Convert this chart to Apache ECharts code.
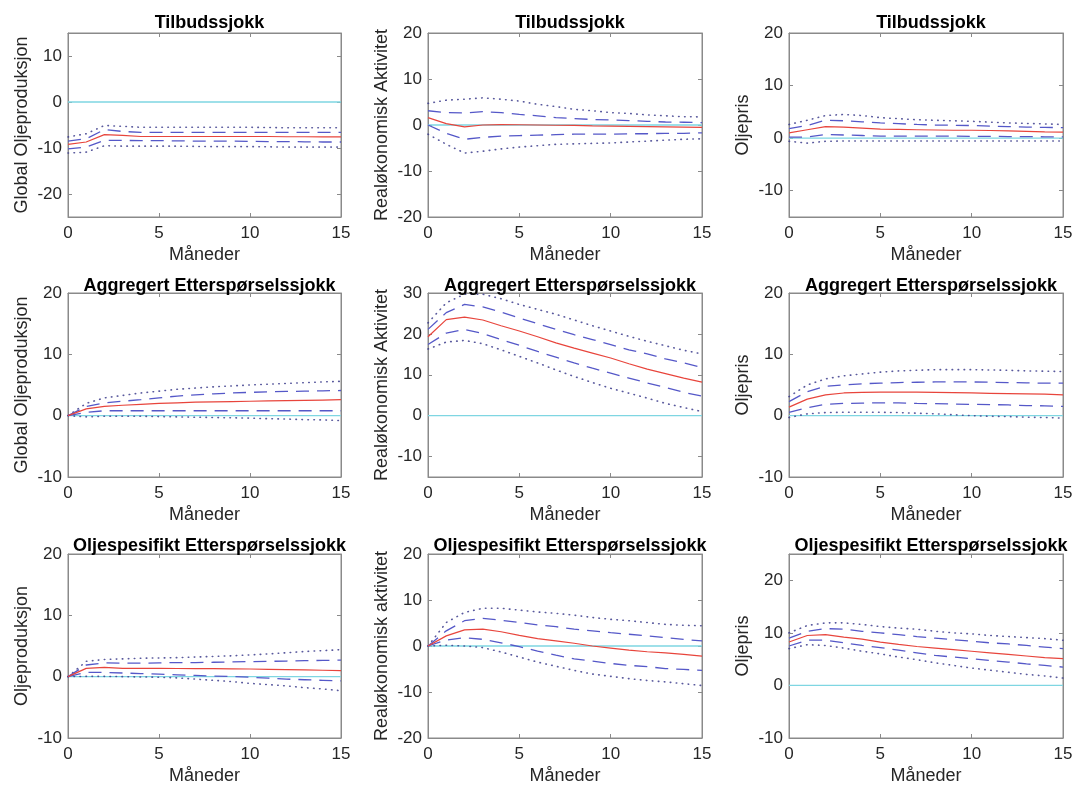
<!DOCTYPE html>
<html>
<head>
<meta charset="utf-8">
<script src="https://cdn.jsdelivr.net/npm/echarts@6/dist/echarts.min.js"></script>
<style>html,body{margin:0;padding:0;background:#fff}#c{width:1079px;height:790px}</style>
</head>
<body>
<div id="c"></div>
<script>
// ---- data ----
const months = [0,1,2,3,4,5,6,7,8,9,10,11,12,13,14,15];
const xTicks = [0,5,10,15];

const titles = ['Tilbudssjokk','Tilbudssjokk','Tilbudssjokk',
  'Aggregert Etterspørselssjokk','Aggregert Etterspørselssjokk','Aggregert Etterspørselssjokk',
  'Oljespesifikt Etterspørselssjokk','Oljespesifikt Etterspørselssjokk','Oljespesifikt Etterspørselssjokk'];
const yNames = ['Global Oljeproduksjon','Realøkonomisk Aktivitet','Oljepris',
  'Global Oljeproduksjon','Realøkonomisk Aktivitet','Oljepris',
  'Oljeproduksjon','Realøkonomisk aktivitet','Oljepris'];
const xName = 'Måneder';

const yMin = [-25,-20,-15,-10,-15,-10,-10,-20,-10];
const yMax = [15,20,20,20,30,20,20,20,25];
const yTicks1 = [-20,-10,0,10];
const yTicks2 = [-20,-10,0,10,20];
const yTicks3 = [-10,0,10,20];
const yTicks4 = [-10,0,10,20];
const yTicks5 = [-10,0,10,20,30];
const yTicks6 = [-10,0,10,20];
const yTicks7 = [-10,0,10,20];
const yTicks8 = [-20,-10,0,10,20];
const yTicks9 = [-10,0,10,20];

// Panel 1: Tilbudssjokk -> Global oljeproduksjon
const p1Med  = [-9.2,-8.7,-7.1,-7.25,-7.5,-7.5,-7.5,-7.5,-7.5,-7.5,-7.5,-7.5,-7.55,-7.55,-7.6,-7.6];
const p1Up68 = [-8.5,-8.0,-6.0,-6.4,-6.6,-6.6,-6.6,-6.6,-6.6,-6.6,-6.6,-6.6,-6.6,-6.6,-6.6,-6.6];
const p1Lo68 = [-10.2,-9.8,-8.35,-8.35,-8.4,-8.4,-8.45,-8.5,-8.5,-8.5,-8.55,-8.6,-8.6,-8.65,-8.7,-8.7];
const p1Up90 = [-7.6,-6.9,-5.1,-5.3,-5.5,-5.5,-5.5,-5.5,-5.5,-5.5,-5.5,-5.55,-5.6,-5.6,-5.6,-5.6];
const p1Lo90 = [-11.1,-10.9,-9.5,-9.6,-9.6,-9.6,-9.6,-9.65,-9.7,-9.7,-9.7,-9.75,-9.8,-9.8,-9.8,-9.8];
// Panel 2: Tilbudssjokk -> Realøkonomisk aktivitet
const p2Med  = [1.6,0.3,-0.4,0,0.1,0.05,0,-0.05,-0.1,-0.2,-0.25,-0.3,-0.35,-0.4,-0.45,-0.5];
const p2Up68 = [3.1,2.7,2.6,2.9,2.7,2.3,2.0,1.6,1.4,1.2,1.1,0.95,0.8,0.65,0.6,0.5];
const p2Lo68 = [0,-1.8,-3.1,-2.7,-2.4,-2.3,-2.2,-2.1,-2.0,-2.0,-2.0,-1.9,-1.9,-1.8,-1.8,-1.7];
const p2Up90 = [4.7,5.4,5.6,5.9,5.6,5.2,4.5,4.0,3.4,3.1,2.7,2.5,2.2,2.0,1.8,1.75];
const p2Lo90 = [-2.0,-4.2,-6.1,-5.7,-5.2,-4.8,-4.5,-4.2,-4.1,-4.0,-3.9,-3.7,-3.5,-3.3,-3.1,-3.0];
// Panel 3: Tilbudssjokk -> Oljepris
const p3Med  = [1.0,1.6,2.2,2.1,1.9,1.7,1.65,1.6,1.55,1.5,1.5,1.45,1.4,1.3,1.2,1.15];
const p3Up68 = [1.8,2.4,3.4,3.3,3.1,2.9,2.75,2.6,2.5,2.45,2.4,2.3,2.2,2.1,2.05,2.0];
const p3Lo68 = [0.2,0.2,0.7,0.6,0.5,0.4,0.4,0.4,0.4,0.4,0.35,0.35,0.3,0.3,0.25,0.25];
const p3Up90 = [2.6,3.4,4.3,4.5,4.3,3.9,3.7,3.5,3.4,3.3,3.2,3.05,2.9,2.8,2.7,2.6];
const p3Lo90 = [-0.6,-0.95,-0.6,-0.55,-0.55,-0.55,-0.55,-0.55,-0.55,-0.55,-0.55,-0.55,-0.55,-0.55,-0.55,-0.55];
// Panel 4: Aggregert -> Global oljeproduksjon
const p4Med  = [0,1.1,1.5,1.7,1.85,2.0,2.1,2.2,2.25,2.3,2.35,2.4,2.45,2.5,2.55,2.6];
const p4Up68 = [0,1.5,2.1,2.35,2.6,2.9,3.2,3.4,3.55,3.7,3.8,3.88,3.95,4.0,4.05,4.1];
const p4Lo68 = [0,0.55,0.8,0.8,0.8,0.8,0.8,0.8,0.8,0.8,0.8,0.8,0.8,0.8,0.8,0.8];
const p4Up90 = [0,2.0,2.9,3.3,3.7,4.0,4.3,4.5,4.7,4.85,5.0,5.12,5.25,5.37,5.5,5.6];
const p4Lo90 = [0,-0.2,-0.1,-0.1,-0.1,-0.15,-0.2,-0.25,-0.3,-0.35,-0.4,-0.5,-0.55,-0.65,-0.7,-0.8];
// Panel 5: Aggregert -> Realøkonomisk aktivitet
const p5Med  = [19.3,23.5,24.1,23.4,22.0,20.7,19.3,17.8,16.5,15.3,14.1,12.7,11.4,10.3,9.2,8.2];
const p5Up68 = [21.1,25.2,27.2,26.6,25.3,23.9,22.5,21.1,19.8,18.6,17.4,16.1,15.1,13.9,12.9,11.8];
const p5Lo68 = [17.4,20.2,21.1,20.1,18.6,17.2,15.7,14.3,12.9,11.6,10.4,9.2,8.0,6.9,5.7,4.8];
const p5Up90 = [22.7,27.6,29.7,29.7,28.6,27.2,26.0,24.8,23.4,22.0,20.7,19.4,18.2,17.1,16.0,15.1];
const p5Lo90 = [16.3,18.0,18.4,17.6,16.1,14.5,12.9,11.2,9.6,8.1,6.7,5.5,4.3,3.0,2.0,1.0];
// Panel 6: Aggregert -> Oljepris
const p6Med  = [1.4,2.7,3.4,3.7,3.8,3.85,3.85,3.85,3.8,3.75,3.7,3.65,3.6,3.55,3.5,3.4];
const p6Up68 = [2.3,3.9,4.8,5.0,5.2,5.3,5.4,5.45,5.5,5.5,5.5,5.45,5.4,5.35,5.3,5.3];
const p6Lo68 = [0.55,1.3,1.85,2.0,2.05,2.1,2.1,2.0,1.95,1.9,1.85,1.8,1.75,1.65,1.6,1.5];
const p6Up90 = [3.1,5.0,6.0,6.5,6.8,7.1,7.3,7.4,7.5,7.5,7.5,7.45,7.4,7.3,7.25,7.2];
const p6Lo90 = [-0.3,0.3,0.5,0.55,0.55,0.55,0.5,0.4,0.3,0.15,0,-0.1,-0.15,-0.25,-0.3,-0.4];
// Panel 7: Oljespesifikt -> Oljeproduksjon
const p7Med  = [0,1.35,1.5,1.35,1.35,1.35,1.33,1.3,1.3,1.28,1.25,1.2,1.15,1.1,1.05,1.0];
const p7Up68 = [0,1.9,2.25,2.2,2.2,2.25,2.3,2.3,2.35,2.4,2.45,2.5,2.55,2.6,2.65,2.7];
const p7Lo68 = [0,0.7,0.7,0.6,0.5,0.4,0.3,0.2,0.1,0.05,-0.1,-0.25,-0.4,-0.5,-0.6,-0.7];
const p7Up90 = [0,2.5,2.8,2.9,3.0,3.05,3.1,3.2,3.3,3.4,3.55,3.7,3.9,4.1,4.25,4.4];
const p7Lo90 = [0,0.05,0.05,0,-0.05,-0.1,-0.2,-0.4,-0.6,-0.8,-1.1,-1.3,-1.5,-1.8,-2.0,-2.3];
// Panel 8: Oljespesifikt -> Realøkonomisk aktivitet
const p8Med  = [0,2.2,3.5,3.65,3.1,2.3,1.6,1.1,0.6,0,-0.45,-0.9,-1.25,-1.5,-1.8,-2.2];
const p8Up68 = [0,3.3,5.5,6.0,5.6,5.1,4.6,4.2,3.65,3.3,2.9,2.55,2.2,1.8,1.45,1.1];
const p8Lo68 = [0,1.3,1.8,1.45,0.7,-0.15,-1.1,-2.0,-2.8,-3.3,-3.8,-4.2,-4.5,-4.9,-5.1,-5.3];
const p8Up90 = [0,5.1,7.3,8.2,8.2,7.8,7.4,7.1,6.7,6.2,5.8,5.5,5.1,4.7,4.5,4.4];
const p8Lo90 = [0,0.15,0,-0.35,-1.3,-2.4,-3.5,-4.4,-5.3,-6.1,-6.6,-7.1,-7.5,-7.8,-8.2,-8.6];
// Panel 9: Oljespesifikt -> Oljepris
const p9Med  = [8.25,9.5,9.65,9.2,8.8,8.25,7.8,7.4,7.1,6.8,6.5,6.2,5.9,5.6,5.3,5.1];
const p9Up68 = [9.0,10.3,10.8,10.7,10.3,10.0,9.65,9.3,9.0,8.7,8.4,8.1,7.9,7.6,7.3,7.0];
const p9Lo68 = [7.5,8.6,8.6,8.1,7.6,7.2,6.7,6.2,5.7,5.4,5.1,4.75,4.45,4.1,3.8,3.5];
const p9Up90 = [10.0,11.4,11.9,11.9,11.6,11.2,10.9,10.7,10.3,10.0,9.8,9.5,9.3,9.1,8.9,8.6];
const p9Lo90 = [7.0,7.75,7.6,7.1,6.5,6.0,5.4,4.9,4.3,3.8,3.3,2.9,2.5,2.1,1.8,1.4];

// ---- assembly ----
const panels = [
  [p1Med,p1Up68,p1Lo68,p1Up90,p1Lo90,yTicks1],
  [p2Med,p2Up68,p2Lo68,p2Up90,p2Lo90,yTicks2],
  [p3Med,p3Up68,p3Lo68,p3Up90,p3Lo90,yTicks3],
  [p4Med,p4Up68,p4Lo68,p4Up90,p4Lo90,yTicks4],
  [p5Med,p5Up68,p5Lo68,p5Up90,p5Lo90,yTicks5],
  [p6Med,p6Up68,p6Lo68,p6Up90,p6Lo90,yTicks6],
  [p7Med,p7Up68,p7Lo68,p7Up90,p7Lo90,yTicks7],
  [p8Med,p8Up68,p8Lo68,p8Up90,p8Lo90,yTicks8],
  [p9Med,p9Up68,p9Lo68,p9Up90,p9Lo90,yTicks9]
];

const colLeft = [68, 428, 789];
const colWidth = [273, 274, 274];
const rowTop = [33, 293, 554];
const plotH = 184;
const titleTop = [9, 272, 532];

const FONT = '"Liberation Sans", Arial, Helvetica, sans-serif';
const TXT = '#262626';
const AX = '#8a8a8a';
const RED = '#e8453c';
const DASH = '#5558c8';
const DOT = '#3c3c8c';
const CYAN = '#7fd6e2';

const grids = [], xAxes = [], yAxes = [], series = [], titleArr = [];
const pair = (arr) => months.map((m, i) => [m, arr[i]]);

panels.forEach((p, i) => {
  const r = Math.floor(i / 3), c = i % 3;
  grids.push({left: colLeft[c], top: rowTop[r], width: colWidth[c], height: plotH,
    show: true, borderColor: AX, borderWidth: 1, backgroundColor: 'transparent'});
  titleArr.push({text: titles[i], left: colLeft[c] + colWidth[c] / 2, top: titleTop[r], textAlign: 'center',
    textStyle: {fontFamily: FONT, fontSize: 18, fontWeight: 'bold', color: '#000'}});
  const tickStyle = {show: true, inside: true, length: 4, lineStyle: {color: AX}, customValues: xTicks};
  xAxes.push({gridIndex: i, type: 'value', min: 0, max: 15, position: 'bottom',
    name: xName, nameLocation: 'middle', nameGap: 29,
    nameTextStyle: {fontFamily: FONT, fontSize: 18, color: TXT},
    axisLine: {show: true, onZero: false, lineStyle: {color: AX}},
    axisTick: tickStyle,
    axisLabel: {fontFamily: FONT, fontSize: 17, color: TXT, margin: 8, customValues: xTicks},
    splitLine: {show: false}});
  xAxes.push({gridIndex: i, type: 'value', min: 0, max: 15, position: 'top',
    axisLine: {show: true, onZero: false, lineStyle: {color: AX}},
    axisTick: tickStyle, axisLabel: {show: false}, splitLine: {show: false}});
  const yT = p[5];
  const yTickStyle = {show: true, inside: true, length: 4, lineStyle: {color: AX}, customValues: yT};
  yAxes.push({gridIndex: i, type: 'value', min: yMin[i], max: yMax[i], position: 'left',
    name: yNames[i], nameLocation: 'middle', nameGap: 37, nameRotate: 90,
    nameTextStyle: {fontFamily: FONT, fontSize: 18, color: TXT},
    axisLine: {show: true, onZero: false, lineStyle: {color: AX}},
    axisTick: yTickStyle,
    axisLabel: {fontFamily: FONT, fontSize: 17, color: TXT, margin: 6, customValues: yT},
    splitLine: {show: false}});
  yAxes.push({gridIndex: i, type: 'value', min: yMin[i], max: yMax[i], position: 'right',
    axisLine: {show: true, onZero: false, lineStyle: {color: AX}},
    axisTick: yTickStyle, axisLabel: {show: false}, splitLine: {show: false}});

  const base = {type: 'line', xAxisIndex: 2 * i, yAxisIndex: 2 * i, showSymbol: false, symbol: 'none',
    animation: false, silent: true};
  const dotStyle = {color: DOT, width: 1.6, type: [0.5, 5.5], cap: 'round', opacity: 0.85};
  const dashStyle = {color: DASH, width: 1.3, type: [13, 8]};
  series.push(Object.assign({}, base, {data: months.map(m => [m, 0]),
    lineStyle: {color: CYAN, width: 1.3}, z: 1}));
  series.push(Object.assign({}, base, {data: pair(p[3]), lineStyle: dotStyle, z: 2}));
  series.push(Object.assign({}, base, {data: pair(p[4]), lineStyle: dotStyle, z: 2}));
  series.push(Object.assign({}, base, {data: pair(p[1]), lineStyle: dashStyle, z: 3}));
  series.push(Object.assign({}, base, {data: pair(p[2]), lineStyle: dashStyle, z: 3}));
  series.push(Object.assign({}, base, {data: pair(p[0]), lineStyle: {color: RED, width: 1.2}, z: 4}));
});

const chart = echarts.init(document.getElementById('c'), null, {renderer: 'canvas'});
chart.setOption({
  backgroundColor: '#ffffff',
  animation: false,
  title: titleArr,
  grid: grids,
  xAxis: xAxes,
  yAxis: yAxes,
  series: series
});
</script>
</body>
</html>
